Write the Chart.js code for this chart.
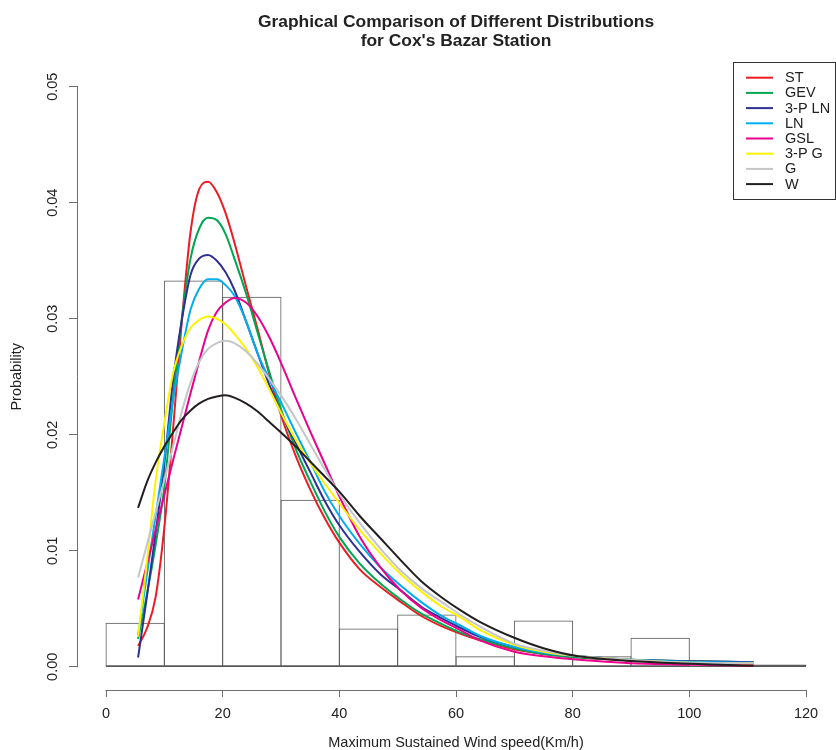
<!DOCTYPE html>
<html><head><meta charset="utf-8">
<script src="https://cdn.jsdelivr.net/npm/chart.js@4.4.1/dist/chart.umd.min.js"></script>
<style>html,body{margin:0;padding:0;background:#fff}canvas{display:block}</style>
</head><body>
<canvas id="c" width="836" height="750"></canvas>
<script>
// ---- data ----
const binCenters = [5,15,25,35,45,55,65,75,85,95,105,115];
const histDensity = [0.0038,0.0333,0.0319,0.0144,0.0033,0.0045,0.0009,0.0040,0.0009,0.0025,0,0.0002];

const curveX = [5.5,7,8.5,10,11.5,13,14.5,16,17.5,19,20.5,22,24,26,28,30,32.5,35,37.5,40,43.5,47,50.5,54,57.5,61,64,70,75,81,90,98,111];
const ST   = [0.0018,0.0033,0.0060,0.0120,0.0205,0.0298,0.0375,0.0412,0.0418,0.0409,0.0391,0.0366,0.0328,0.0291,0.0252,0.0217,0.0182,0.0153,0.0128,0.0107,0.0084,0.0069,0.0056,0.0044,0.0035,0.0028,0.0023,0.0015,0.0011,0.0008,0.00055,0.0004,0.00025];
const GEV  = [0.0024,0.0062,0.0105,0.0155,0.0232,0.0300,0.0352,0.0378,0.0387,0.0385,0.0373,0.0352,0.0322,0.0288,0.0254,0.0222,0.0188,0.0160,0.0134,0.0112,0.0089,0.0072,0.0058,0.0046,0.0037,0.0029,0.0024,0.0016,0.0011,0.0008,0.0006,0.0005,0.0004];
const PLN3 = [0.0008,0.0060,0.0115,0.0175,0.0247,0.0299,0.0338,0.0352,0.0355,0.0350,0.0340,0.0325,0.0298,0.0270,0.0243,0.0219,0.0193,0.0168,0.0143,0.0122,0.0099,0.0080,0.0066,0.0052,0.0042,0.0033,0.0026,0.0017,0.0012,0.0009,0.0006,0.0005,0.0004];
const LN   = [0.0027,0.0079,0.0130,0.0180,0.0230,0.0272,0.0308,0.0326,0.0334,0.0334,0.0329,0.0320,0.0298,0.0270,0.0248,0.0228,0.0202,0.0177,0.0151,0.0130,0.0106,0.0086,0.0070,0.0056,0.0044,0.0035,0.0027,0.0017,0.0012,0.0009,0.0006,0.00045,0.00035];
const GSL  = [0.0058,0.0088,0.0118,0.0148,0.0178,0.0207,0.0236,0.0264,0.0290,0.0306,0.0314,0.0318,0.0314,0.0302,0.0284,0.0262,0.0232,0.0203,0.0175,0.0147,0.0112,0.0086,0.0066,0.0051,0.0040,0.0031,0.0023,0.0013,0.0009,0.0006,0.0003,0.0002,0.0001];
const PG3  = [0.0026,0.0090,0.0160,0.0210,0.0253,0.0277,0.0292,0.0299,0.0302,0.0300,0.0295,0.0287,0.0274,0.0258,0.0239,0.0219,0.0196,0.0176,0.0158,0.0141,0.0118,0.0098,0.0080,0.0065,0.0052,0.0042,0.0032,0.0019,0.0013,0.0009,0.0006,0.0004,0.0003];
const G    = [0.0077,0.0105,0.0133,0.0161,0.0190,0.0220,0.0245,0.0263,0.0274,0.0279,0.0281,0.0279,0.0272,0.0261,0.0248,0.0234,0.0214,0.0192,0.0170,0.0149,0.0124,0.0102,0.0083,0.0068,0.0056,0.0044,0.0035,0.0020,0.0014,0.0009,0.0006,0.0004,0.0003];
const W    = [0.0137,0.0159,0.0176,0.0190,0.0202,0.0213,0.0221,0.0227,0.0231,0.0233,0.0234,0.0232,0.0227,0.0220,0.0211,0.0202,0.0190,0.0177,0.0164,0.0151,0.0130,0.0111,0.0092,0.0074,0.0060,0.0048,0.0039,0.0025,0.0016,0.0009,0.0005,0.0003,0.0001];

const seriesNames  = ['ST','GEV','3-P LN','LN','GSL','3-P G','G','W'];
const seriesValues = [ST, GEV, PLN3, LN, GSL, PG3, G, W];
const seriesColors = ['#ed1c24','#00a651','#2e3192','#00aeef','#ec008c','#fff200','#c4c6c8','#231f20'];

const titleLines = ["Graphical Comparison of Different Distributions", "for Cox's Bazar Station"];
const xTitle = 'Maximum Sustained Wind speed(Km/h)';
const yTitle = 'Probability';
const xRange = [0, 120], yRange = [0, 0.05];

// ---- chart ----
Chart.defaults.font.family = "'Liberation Sans', Arial, Helvetica, sans-serif";
Chart.defaults.color = '#222';
const FS = 14.5;

const padX = (xRange[1]-xRange[0])*0.04, padY = (yRange[1]-yRange[0])*0.04;

const datasets = [{
  type: 'bar',
  label: 'hist',
  data: binCenters.map((c,i)=>({x:c, y:histDensity[i]})),
  backgroundColor: 'rgba(0,0,0,0)',
  borderColor: '#5a5a5a',
  borderWidth: 1,
  borderSkipped: false,
  inflateAmount: 0,
  barPercentage: 1.0171,
  categoryPercentage: 1,
  order: 20
}];
seriesValues.forEach((vals, k) => {
  datasets.push({
    type: 'line',
    label: seriesNames[k],
    data: curveX.map((x,i)=>({x, y: vals[i]})),
    borderColor: seriesColors[k],
    backgroundColor: seriesColors[k],
    borderWidth: 2,
    pointRadius: 0,
    fill: false,
    cubicInterpolationMode: 'monotone',
    order: 10 - k
  });
});

const rStyle = {
  id: 'rStyle',
  beforeDatasetsDraw(chart) {
    const {ctx, scales:{x, y}} = chart;
    ctx.save();
    ctx.strokeStyle = '#5a5a5a'; ctx.lineWidth = 1;
    const y0 = Math.round(y.getPixelForValue(0)) - 0.5;
    ctx.beginPath(); ctx.moveTo(x.getPixelForValue(0), y0); ctx.lineTo(x.getPixelForValue(120), y0); ctx.stroke();
    ctx.restore();
  },
  afterDraw(chart) {
    const {ctx, chartArea, scales:{x, y}} = chart;
    ctx.save();
    ctx.strokeStyle = '#6e6e6e'; ctx.lineWidth = 1;
    const yb = Math.round(chartArea.bottom) + 0.5;
    ctx.beginPath(); ctx.moveTo(x.getPixelForValue(xRange[0]) - 0.5, yb); ctx.lineTo(x.getPixelForValue(xRange[1]) + 0.5, yb); ctx.stroke();
    const xl = Math.round(chartArea.left) - 0.5;
    ctx.beginPath(); ctx.moveTo(xl, y.getPixelForValue(yRange[0]) + 0.5); ctx.lineTo(xl, y.getPixelForValue(yRange[1]) - 0.5); ctx.stroke();
    // legend box (R style, inside plot region)
    const bx = 733.5, by = 62.5, bw = 102, bh = 137;
    ctx.strokeStyle = '#333';
    ctx.strokeRect(bx, by, bw, bh);
    ctx.font = FS + "px 'Liberation Sans', Arial, sans-serif";
    ctx.textBaseline = 'middle'; ctx.textAlign = 'left';
    const lines = chart.data.datasets.filter(d => d.type === 'line');
    lines.forEach((d, i) => {
      const cy = 77.7 + i * 15.2;
      ctx.strokeStyle = d.borderColor; ctx.lineWidth = 2;
      ctx.beginPath(); ctx.moveTo(746, cy); ctx.lineTo(773, cy); ctx.stroke();
      ctx.fillStyle = '#222';
      ctx.fillText(d.label, 785, cy + 0.5);
    });
    ctx.restore();
  }
};

new Chart(document.getElementById('c'), {
  type: 'bar',
  data: { datasets },
  options: {
    responsive: false,
    animation: false,
    devicePixelRatio: 1,
    layout: { padding: { left: 0, right: 2, top: 0, bottom: 0 } },
    plugins: {
      legend: { display: false },
      tooltip: { enabled: false },
      title: {
        display: true,
        text: titleLines,
        fullSize: false,
        color: '#222',
        font: { size: 17.4, weight: 'bold', lineHeight: 1.09 },
        padding: { top: 13, bottom: 12.6 }
      }
    },
    scales: {
      x: {
        type: 'linear',
        min: xRange[0] - padX, max: xRange[1] + padX,
        offset: false,
        afterFit: s => { s.height = 60; },
        border: { display: false },
        grid: { display: true, offset: false, drawOnChartArea: false, drawTicks: true, tickLength: 7, color: '#6e6e6e', tickColor: '#6e6e6e' },
        ticks: { stepSize: 20, includeBounds: false, autoSkip: false, maxRotation: 0, padding: 8, font: { size: FS }, color: '#222',
                 callback: v => String(Math.round(v)) },
        title: { display: true, text: xTitle, font: { size: FS }, color: '#222', padding: { top: 4, bottom: -2 } }
      },
      y: {
        type: 'linear',
        min: yRange[0] - padY, max: yRange[1] + padY,
        afterFit: s => { s.width = 78; },
        border: { display: false },
        grid: { display: true, offset: false, drawOnChartArea: false, drawTicks: true, tickLength: 9, color: '#6e6e6e', tickColor: '#6e6e6e' },
        ticks: { stepSize: 0.01, includeBounds: false, autoSkip: false, minRotation: 90, maxRotation: 90, crossAlign: 'center', padding: 2.2, font: { size: FS }, color: '#222',
                 callback: v => Number(v).toFixed(2) },
        title: { display: true, text: yTitle, font: { size: FS }, color: '#222', padding: { top: 8.5, bottom: 0 } }
      }
    }
  },
  plugins: [rStyle]
});
</script>
</body></html>
